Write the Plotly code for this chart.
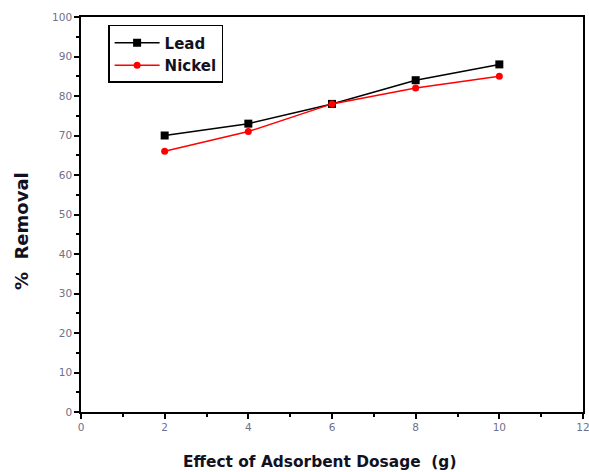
import plotly.graph_objects as go

dosage = [2, 4, 6, 8, 10]
lead = [70, 73, 78, 84, 88]
nickel = [66, 71, 78, 82, 85]

x_title = "Effect of Adsorbent Dosage&nbsp; (g)"
y_title = "%&nbsp; Removal"

fig = go.Figure()
fig.add_trace(go.Scatter(x=dosage, y=lead, mode="lines+markers", name="<b>Lead</b>",
                         line=dict(color="black", width=1.5),
                         marker=dict(symbol="square", size=8, color="black")))
fig.add_trace(go.Scatter(x=dosage, y=nickel, mode="lines+markers", name="<b>Nickel</b>",
                         line=dict(color="red", width=1.5),
                         marker=dict(symbol="circle", size=7, color="red")))

axis_common = dict(showline=True, linecolor="black", linewidth=1.5, mirror=True,
                   ticks="outside", ticklen=5, tickwidth=1.5, tickcolor="black",
                   showgrid=False, zeroline=False, automargin=False,
                   ticklabeloverflow="allow",
                   tickfont=dict(family="DejaVu Sans", size=10.5, color="#70708a"))

fig.update_xaxes(range=[0, 12], dtick=2, **axis_common,
                 minor=dict(ticks="outside", dtick=1, ticklen=3, tickwidth=1.5, tickcolor="black"))
fig.update_yaxes(range=[0, 100], dtick=10, **axis_common,
                 minor=dict(ticks="outside", dtick=5, ticklen=3, tickwidth=1.5, tickcolor="black"))

fig.add_annotation(text=f"<b>{x_title}</b>", xref="paper", yref="paper",
                   x=0.476, y=-0.1266, xanchor="center", yanchor="middle", showarrow=False,
                   font=dict(family="DejaVu Sans", size=15.4, color="#111122"))
fig.add_annotation(text=f"<b>{y_title}</b>", xref="paper", yref="paper",
                   x=-0.1195, y=0.458, xanchor="center", yanchor="middle", showarrow=False,
                   textangle=-90,
                   font=dict(family="DejaVu Sans", size=18, color="#111122"))

fig.update_layout(
    width=589, height=472,
    margin=dict(l=81, r=6, t=17, b=60),
    plot_bgcolor="white", paper_bgcolor="white",
    legend=dict(x=0.054, y=0.98, xanchor="left", yanchor="top",
                bordercolor="black", borderwidth=1.5, bgcolor="white",
                font=dict(family="DejaVu Sans", size=15, color="#111122"),
                tracegroupgap=0, itemwidth=45),
    showlegend=True,
)

fig.write_html("out.html")
